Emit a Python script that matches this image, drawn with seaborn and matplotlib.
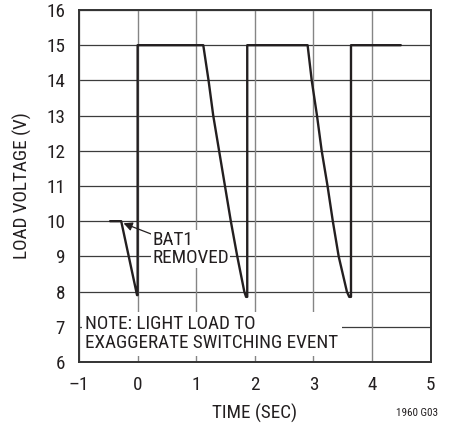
import seaborn as sns
import pandas as pd
import matplotlib.pyplot as plt

# trace
time_s = [-0.47, -0.28, -0.01, 0.0, 0.0, 1.12, 1.21, 1.29, 1.39, 1.49, 1.59, 1.70, 1.82, 1.85,
          1.87, 1.87, 2.90, 2.97, 3.06, 3.14, 3.24, 3.33, 3.43, 3.57, 3.61, 3.64, 3.64, 4.49]
load_v = [10.0, 10.0, 7.9, 7.9, 15.0, 15.0, 14.0, 13.0, 12.0, 11.0, 10.0, 9.0, 8.0, 7.85,
          7.85, 15.0, 15.0, 14.0, 13.0, 12.0, 11.0, 10.0, 9.0, 8.0, 7.85, 7.85, 15.0, 15.0]

x_ticks = [-1, 0, 1, 2, 3, 4, 5]
x_labels = ['\u20131', '0', '1', '2', '3', '4', '5']
y_ticks = list(range(6, 17))

df = pd.DataFrame({'t': time_s, 'v': load_v})

sns.set_style('white')
plt.rcParams['font.family'] = ['Roboto Condensed', 'Archivo Narrow', 'DejaVu Sans']
fs = 13.8

fig = plt.figure(figsize=(4.53, 4.29), dpi=100)
ax = fig.add_axes([0.1744, 0.1562, 0.7764, 0.8205])

for y in y_ticks:
    ax.axhline(y, color='#3c3c3c', lw=0.9, zorder=1)
for x in x_ticks:
    ax.axvline(x, color='#858585', lw=1.0, zorder=1)

sns.lineplot(data=df, x='t', y='v', sort=False, estimator=None, color='#231f20',
             lw=1.7, ax=ax, zorder=3)

ax.set_xlim(-1, 5)
ax.set_ylim(6, 16)
ax.set_xticks(x_ticks)
ax.set_xticklabels(x_labels)
ax.set_yticks(y_ticks)
ax.tick_params(length=0, pad=10, labelsize=fs, colors='#231f20')
ax.set_xlabel('TIME (SEC)', fontsize=fs, labelpad=7, color='#231f20')
ax.set_ylabel('LOAD VOLTAGE (V)', fontsize=fs, labelpad=10, color='#231f20')
for s in ax.spines.values():
    s.set_color('#333333')
    s.set_linewidth(1.4)

ax.annotate('BAT1\nREMOVED', xy=(-0.24, 9.94), xytext=(0.25, 9.2),
            ha='left', va='center', fontsize=fs, linespacing=1.0, color='#231f20',
            bbox=dict(boxstyle='square,pad=0.05', fc='white', ec='none'),
            arrowprops=dict(arrowstyle='-|>', color='#231f20', lw=0.9,
                            shrinkA=0, shrinkB=0, mutation_scale=13),
            zorder=2)

ax.text(-0.89, 6.8, 'NOTE: LIGHT LOAD TO\nEXAGGERATE SWITCHING EVENT', ha='left', va='center',
        fontsize=fs, linespacing=1.05, color='#231f20', zorder=2,
        bbox=dict(boxstyle='square,pad=0.2', fc='white', ec='none'))

fig.text(0.967, 0.037, '1960 G03', ha='right', va='center', fontsize=8, color='#231f20')

fig.savefig('out.png', dpi=100)
